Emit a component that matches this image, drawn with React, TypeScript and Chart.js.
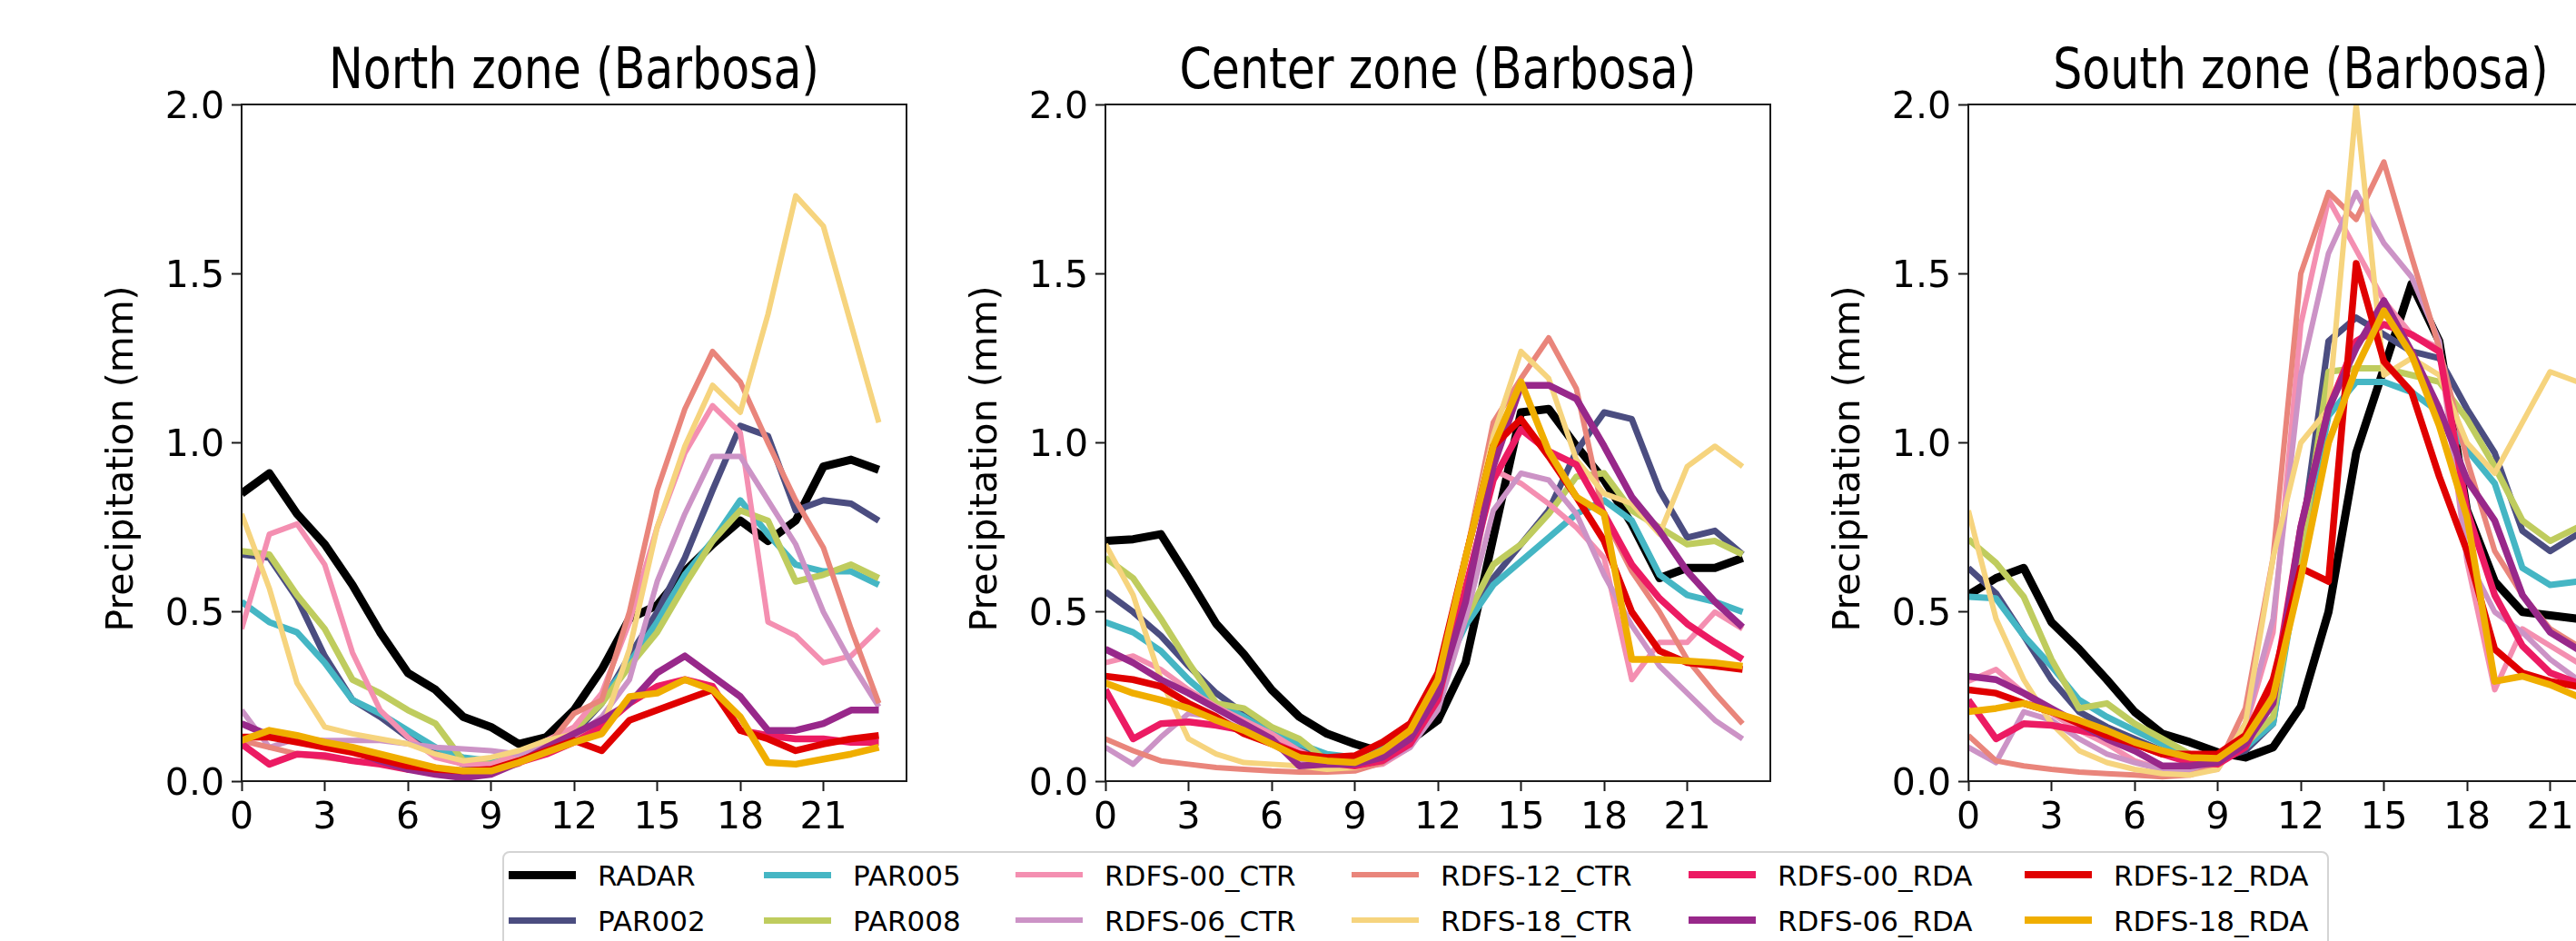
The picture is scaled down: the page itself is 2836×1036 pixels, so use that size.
import React, { useEffect, useRef } from "react";
import { Chart, registerables } from "chart.js";

Chart.register(...registerables);

// ---------- categories & labels ----------
const hours = [0, 1, 2, 3, 4, 5, 6, 7, 8, 9, 10, 11, 12, 13, 14, 15, 16, 17, 18, 19, 20, 21, 22, 23];
const xTickValues = [0, 3, 6, 9, 12, 15, 18, 21];
const yTickValues = [0, 0.5, 1.0, 1.5, 2.0];
const zoneTitles = ["North zone (Barbosa)", "Center zone (Barbosa)", "South zone (Barbosa)"];
const yAxisLabel = "Precipitation (mm)";

const seriesNames = [
  "RADAR", "PAR002", "PAR005", "PAR008",
  "RDFS-00_CTR", "RDFS-06_CTR", "RDFS-12_CTR", "RDFS-18_CTR",
  "RDFS-00_RDA", "RDFS-06_RDA", "RDFS-12_RDA", "RDFS-18_RDA",
];
const seriesColors = [
  "#000000", "#4b4d80", "#45b6c4", "#bfcc5e",
  "#f48fb1", "#cc93c6", "#e9857b", "#f6d47e",
  "#ec1b63", "#98288a", "#e00000", "#f0ae00",
];
const seriesWidths = [9, 7, 7, 7, 6, 6, 6, 6, 7.5, 7.5, 7.5, 7.5];

// ---------- North zone ----------
const nRadar = [0.85, 0.91, 0.79, 0.70, 0.58, 0.44, 0.32, 0.27, 0.19, 0.16, 0.11, 0.13, 0.21, 0.33, 0.48, 0.52, 0.62, 0.70, 0.77, 0.71, 0.77, 0.93, 0.95, 0.92];
const nPar002 = [0.67, 0.66, 0.54, 0.37, 0.24, 0.19, 0.13, 0.085, 0.05, 0.045, 0.06, 0.10, 0.14, 0.23, 0.37, 0.50, 0.66, 0.86, 1.05, 1.02, 0.80, 0.83, 0.82, 0.77];
const nPar005 = [0.53, 0.47, 0.44, 0.35, 0.24, 0.20, 0.15, 0.10, 0.07, 0.06, 0.08, 0.11, 0.15, 0.24, 0.35, 0.47, 0.61, 0.71, 0.83, 0.73, 0.64, 0.62, 0.62, 0.58];
const nPar008 = [0.68, 0.67, 0.55, 0.45, 0.30, 0.26, 0.21, 0.17, 0.06, 0.05, 0.07, 0.11, 0.15, 0.23, 0.34, 0.44, 0.58, 0.71, 0.80, 0.77, 0.59, 0.61, 0.64, 0.60];
const nCtr00 = [0.45, 0.73, 0.76, 0.64, 0.38, 0.21, 0.13, 0.07, 0.05, 0.05, 0.08, 0.12, 0.16, 0.26, 0.47, 0.75, 0.97, 1.11, 1.03, 0.47, 0.43, 0.35, 0.37, 0.45];
const nCtr06 = [0.21, 0.10, 0.125, 0.12, 0.12, 0.12, 0.11, 0.10, 0.095, 0.09, 0.08, 0.10, 0.13, 0.19, 0.30, 0.59, 0.79, 0.96, 0.96, 0.83, 0.70, 0.50, 0.35, 0.22];
const nCtr12 = [0.12, 0.10, 0.08, 0.07, 0.06, 0.05, 0.04, 0.03, 0.03, 0.03, 0.05, 0.10, 0.20, 0.24, 0.50, 0.86, 1.10, 1.27, 1.18, 1.00, 0.83, 0.69, 0.45, 0.23];
const nCtr18 = [0.79, 0.57, 0.29, 0.16, 0.14, 0.125, 0.11, 0.08, 0.06, 0.07, 0.09, 0.12, 0.14, 0.15, 0.39, 0.75, 0.99, 1.17, 1.09, 1.38, 1.73, 1.64, 1.35, 1.06];
const nRda00 = [0.11, 0.05, 0.08, 0.075, 0.06, 0.05, 0.035, 0.03, 0.03, 0.03, 0.055, 0.08, 0.115, 0.16, 0.23, 0.28, 0.30, 0.28, 0.15, 0.135, 0.125, 0.125, 0.115, 0.115];
const nRda06 = [0.17, 0.135, 0.125, 0.11, 0.09, 0.06, 0.035, 0.02, 0.01, 0.02, 0.055, 0.10, 0.14, 0.18, 0.23, 0.32, 0.37, 0.31, 0.25, 0.15, 0.15, 0.17, 0.21, 0.21];
const nRda12 = [0.13, 0.13, 0.115, 0.10, 0.085, 0.065, 0.045, 0.035, 0.03, 0.035, 0.06, 0.09, 0.12, 0.09, 0.18, 0.21, 0.24, 0.27, 0.15, 0.125, 0.09, 0.11, 0.125, 0.135];
const nRda18 = [0.12, 0.15, 0.135, 0.115, 0.10, 0.08, 0.06, 0.04, 0.03, 0.03, 0.055, 0.085, 0.115, 0.14, 0.25, 0.26, 0.30, 0.27, 0.19, 0.055, 0.05, 0.065, 0.08, 0.10];

// ---------- Center zone ----------
const cRadar = [0.71, 0.715, 0.73, 0.60, 0.465, 0.375, 0.27, 0.19, 0.14, 0.11, 0.085, 0.12, 0.18, 0.35, 0.72, 1.09, 1.10, 0.99, 0.89, 0.76, 0.60, 0.63, 0.63, 0.66];
const cPar002 = [0.56, 0.50, 0.43, 0.34, 0.26, 0.20, 0.14, 0.10, 0.07, 0.06, 0.09, 0.16, 0.29, 0.48, 0.60, 0.70, 0.80, 0.975, 1.09, 1.07, 0.86, 0.72, 0.74, 0.67];
const cPar005 = [0.47, 0.44, 0.385, 0.30, 0.23, 0.19, 0.14, 0.11, 0.08, 0.07, 0.10, 0.16, 0.29, 0.46, 0.58, 0.65, 0.72, 0.79, 0.83, 0.77, 0.61, 0.55, 0.53, 0.50];
const cPar008 = [0.66, 0.60, 0.48, 0.35, 0.23, 0.215, 0.16, 0.125, 0.06, 0.055, 0.08, 0.15, 0.29, 0.48, 0.64, 0.70, 0.79, 0.90, 0.91, 0.80, 0.75, 0.70, 0.71, 0.67];
const cCtr00 = [0.35, 0.37, 0.33, 0.27, 0.22, 0.18, 0.14, 0.09, 0.05, 0.04, 0.05, 0.10, 0.22, 0.50, 0.92, 0.88, 0.82, 0.75, 0.66, 0.30, 0.41, 0.41, 0.50, 0.45];
const cCtr06 = [0.10, 0.05, 0.13, 0.20, 0.19, 0.15, 0.11, 0.06, 0.04, 0.04, 0.055, 0.10, 0.21, 0.48, 0.80, 0.91, 0.89, 0.79, 0.61, 0.46, 0.34, 0.26, 0.18, 0.125];
const cCtr12 = [0.125, 0.09, 0.06, 0.05, 0.04, 0.035, 0.03, 0.027, 0.027, 0.03, 0.055, 0.125, 0.30, 0.66, 1.06, 1.19, 1.31, 1.16, 0.78, 0.62, 0.50, 0.36, 0.26, 0.17];
const cCtr18 = [0.70, 0.55, 0.30, 0.125, 0.08, 0.055, 0.05, 0.045, 0.035, 0.04, 0.06, 0.125, 0.29, 0.66, 1.02, 1.27, 1.19, 0.95, 0.85, 0.82, 0.73, 0.93, 0.99, 0.93];
const cRda00 = [0.27, 0.125, 0.17, 0.175, 0.165, 0.15, 0.115, 0.08, 0.055, 0.045, 0.06, 0.11, 0.24, 0.57, 0.89, 1.04, 0.975, 0.935, 0.79, 0.64, 0.54, 0.465, 0.41, 0.36];
const cRda06 = [0.39, 0.35, 0.30, 0.26, 0.215, 0.17, 0.125, 0.045, 0.05, 0.05, 0.07, 0.125, 0.26, 0.53, 0.93, 1.17, 1.17, 1.13, 0.99, 0.84, 0.74, 0.62, 0.53, 0.455];
const cRda12 = [0.31, 0.30, 0.28, 0.23, 0.19, 0.14, 0.11, 0.08, 0.07, 0.075, 0.115, 0.17, 0.32, 0.66, 0.99, 1.07, 0.96, 0.84, 0.71, 0.50, 0.385, 0.35, 0.34, 0.33];
const cRda18 = [0.29, 0.26, 0.24, 0.215, 0.18, 0.15, 0.11, 0.07, 0.06, 0.055, 0.09, 0.15, 0.30, 0.66, 0.99, 1.18, 0.975, 0.84, 0.79, 0.36, 0.36, 0.355, 0.35, 0.34];

// ---------- South zone ----------
const sRadar = [0.55, 0.60, 0.63, 0.47, 0.39, 0.30, 0.205, 0.14, 0.115, 0.085, 0.07, 0.10, 0.22, 0.50, 0.97, 1.22, 1.47, 1.30, 0.80, 0.59, 0.50, 0.49, 0.48, 0.47];
const sPar002 = [0.63, 0.555, 0.43, 0.30, 0.205, 0.16, 0.125, 0.09, 0.07, 0.065, 0.09, 0.17, 0.70, 1.30, 1.37, 1.32, 1.27, 1.25, 1.10, 0.97, 0.74, 0.68, 0.73, 0.75];
const sPar005 = [0.545, 0.54, 0.43, 0.34, 0.24, 0.19, 0.15, 0.11, 0.08, 0.07, 0.10, 0.17, 0.66, 1.08, 1.18, 1.18, 1.15, 1.09, 0.98, 0.88, 0.63, 0.58, 0.59, 0.60];
const sPar008 = [0.715, 0.645, 0.545, 0.36, 0.215, 0.23, 0.17, 0.125, 0.08, 0.07, 0.11, 0.19, 0.66, 1.21, 1.22, 1.22, 1.20, 1.18, 1.07, 0.93, 0.77, 0.71, 0.75, 0.78];
const sCtr00 = [0.295, 0.33, 0.26, 0.20, 0.15, 0.11, 0.06, 0.035, 0.027, 0.035, 0.16, 0.44, 1.35, 1.72, 1.57, 1.42, 1.32, 1.28, 0.65, 0.27, 0.45, 0.40, 0.35, 0.33];
const sCtr06 = [0.10, 0.055, 0.205, 0.18, 0.125, 0.08, 0.055, 0.035, 0.027, 0.045, 0.17, 0.48, 1.20, 1.56, 1.74, 1.59, 1.49, 1.30, 0.66, 0.50, 0.44, 0.36, 0.30, 0.28];
const sCtr12 = [0.135, 0.06, 0.045, 0.035, 0.027, 0.022, 0.018, 0.013, 0.018, 0.045, 0.215, 0.66, 1.50, 1.74, 1.66, 1.83, 1.55, 1.28, 0.95, 0.68, 0.55, 0.45, 0.40, 0.38];
const sCtr18 = [0.80, 0.48, 0.30, 0.17, 0.09, 0.055, 0.035, 0.022, 0.018, 0.035, 0.17, 0.66, 1.00, 1.10, 2.00, 1.20, 1.25, 1.20, 1.00, 0.91, 1.06, 1.21, 1.18, 1.15];
const sRda00 = [0.24, 0.125, 0.17, 0.165, 0.15, 0.135, 0.11, 0.08, 0.055, 0.05, 0.10, 0.26, 0.75, 1.10, 1.30, 1.35, 1.32, 1.27, 0.80, 0.55, 0.40, 0.32, 0.29, 0.27];
const sRda06 = [0.31, 0.30, 0.26, 0.215, 0.17, 0.125, 0.09, 0.045, 0.045, 0.055, 0.11, 0.23, 0.75, 1.10, 1.28, 1.42, 1.27, 1.10, 0.89, 0.77, 0.55, 0.44, 0.39, 0.36];
const sRda12 = [0.27, 0.26, 0.23, 0.205, 0.17, 0.135, 0.11, 0.08, 0.08, 0.08, 0.135, 0.30, 0.63, 0.59, 1.53, 1.24, 1.15, 0.90, 0.68, 0.39, 0.32, 0.295, 0.28, 0.27];
const sRda18 = [0.205, 0.215, 0.23, 0.205, 0.18, 0.15, 0.115, 0.09, 0.07, 0.067, 0.125, 0.25, 0.60, 1.00, 1.22, 1.39, 1.26, 1.05, 0.78, 0.295, 0.31, 0.285, 0.25, 0.24];

const zoneSeries = [
  [nRadar, nPar002, nPar005, nPar008, nCtr00, nCtr06, nCtr12, nCtr18, nRda00, nRda06, nRda12, nRda18],
  [cRadar, cPar002, cPar005, cPar008, cCtr00, cCtr06, cCtr12, cCtr18, cRda00, cRda06, cRda12, cRda18],
  [sRadar, sPar002, sPar005, sPar008, sCtr00, sCtr06, sCtr12, sCtr18, sRda00, sRda06, sRda12, sRda18],
];

// ---------- layout ----------
const FONT = '"DejaVu Sans", "Liberation Sans", sans-serif';
const CANVAS_W = 1018;
const CANVAS_H = 935;
const panelLefts = [0, 951, 1901];
const legendCols = [560, 841, 1118, 1488, 1859, 2229];
const legendRows = [963, 1013];

const panelTextPlugin = {
  id: "panelText",
  afterDraw(chart: any, _args: any, opts: any) {
    const { ctx, chartArea } = chart;
    // title (condensed look)
    ctx.save();
    ctx.fillStyle = "#000";
    ctx.font = `62px ${FONT}`;
    ctx.textAlign = "center";
    ctx.textBaseline = "alphabetic";
    ctx.translate((chartArea.left + chartArea.right) / 2, 97);
    ctx.scale(0.815, 1);
    ctx.fillText(opts.title, 0, 0);
    ctx.restore();
    // y label
    ctx.save();
    ctx.fillStyle = "#000";
    ctx.font = `41px ${FONT}`;
    ctx.textAlign = "center";
    ctx.textBaseline = "alphabetic";
    ctx.translate(146, 505);
    ctx.rotate(-Math.PI / 2);
    ctx.fillText(yAxisLabel, 0, 0);
    ctx.restore();
    // frame
    ctx.save();
    ctx.strokeStyle = "#1a1a1a";
    ctx.lineWidth = 2;
    ctx.strokeRect(chartArea.left, chartArea.top, chartArea.right - chartArea.left, chartArea.bottom - chartArea.top);
    ctx.restore();
  },
};

function buildConfig(zoneIdx: number): any {
  const n = seriesNames.length;
  return {
    type: "line",
    data: {
      datasets: seriesNames.map((name, k) => ({
        label: name,
        data: hours.map((h, i) => ({ x: h, y: zoneSeries[zoneIdx][k][i] })),
        borderColor: seriesColors[k],
        backgroundColor: seriesColors[k],
        borderWidth: seriesWidths[k],
        pointRadius: 0,
        pointHoverRadius: 0,
        tension: 0,
        fill: false,
        clip: 0,
        borderJoinStyle: "round",
        borderCapStyle: "butt",
        order: n - k,
      })),
    },
    options: {
      animation: false,
      responsive: false,
      maintainAspectRatio: false,
      devicePixelRatio: 1,
      events: [],
      layout: { padding: { top: 115, right: 20, left: 0, bottom: 0 } },
      plugins: {
        legend: { display: false },
        tooltip: { enabled: false },
        title: { display: false },
        panelText: { title: zoneTitles[zoneIdx] },
      },
      scales: {
        x: {
          type: "linear",
          min: 0,
          max: 24,
          afterBuildTicks: (s: any) => {
            s.ticks = xTickValues.map((v) => ({ value: v }));
          },
          afterFit: (s: any) => {
            s.height = CANVAS_H - 860;
          },
          grid: { display: true, drawOnChartArea: false, drawTicks: true, tickLength: 11, tickWidth: 2, tickColor: "#1a1a1a" },
          border: { display: false },
          ticks: {
            color: "#000",
            font: { family: FONT, size: 41 },
            padding: 6,
            maxRotation: 0,
            autoSkip: false,
            callback: (v: any) => String(v),
          },
        },
        y: {
          type: "linear",
          min: 0,
          max: 2,
          afterBuildTicks: (s: any) => {
            s.ticks = yTickValues.map((v) => ({ value: v }));
          },
          afterFit: (s: any) => {
            s.width = 266;
          },
          grid: { display: true, drawOnChartArea: false, drawTicks: true, tickLength: 11, tickWidth: 2, tickColor: "#1a1a1a" },
          border: { display: false },
          ticks: {
            color: "#000",
            font: { family: FONT, size: 41 },
            padding: 8,
            labelOffset: 4,
            autoSkip: false,
            callback: (v: any) => Number(v).toFixed(1),
          },
        },
      },
    },
    plugins: [panelTextPlugin],
  };
}

function Panel({ zoneIdx, left }: { zoneIdx: number; left: number }) {
  const ref = useRef<HTMLCanvasElement | null>(null);
  useEffect(() => {
    if (!ref.current) return;
    const chart = new Chart(ref.current, buildConfig(zoneIdx));
    return () => chart.destroy();
  }, [zoneIdx]);
  return (
    <canvas
      ref={ref}
      width={CANVAS_W}
      height={CANVAS_H}
      style={{ position: "absolute", left, top: 0, width: CANVAS_W, height: CANVAS_H }}
    />
  );
}

function Legend() {
  const boxLeft = 553;
  const boxTop = 937;
  const border = 2;
  const items = seriesNames.map((name, k) => {
    const col = Math.floor(k / 2);
    const row = k % 2;
    const hx = legendCols[col] - boxLeft - border;
    const cy = legendRows[row] - boxTop - border;
    return (
      <React.Fragment key={name}>
        <div
          style={{
            position: "absolute",
            left: hx,
            top: cy - seriesWidths[k] / 2,
            width: 74,
            height: seriesWidths[k],
            background: seriesColors[k],
          }}
        />
        <div
          style={{
            position: "absolute",
            left: hx + 98,
            top: cy + 12 - 29 - 4,
            fontFamily: FONT,
            fontSize: 31,
            lineHeight: "44px",
            color: "#000",
            whiteSpace: "nowrap",
          }}
        >
          {name}
        </div>
      </React.Fragment>
    );
  });
  return (
    <div
      style={{
        position: "absolute",
        left: boxLeft,
        top: boxTop,
        width: 2564 - boxLeft - 2 * border,
        height: 130,
        border: `${border}px solid #d4d4d4`,
        borderRadius: 8,
        background: "#fff",
      }}
    >
      {items}
    </div>
  );
}

export default function App() {
  return (
    <div
      style={{
        position: "absolute",
        left: 0,
        top: 0,
        width: 2836,
        height: 1036,
        overflow: "hidden",
        background: "#fff",
      }}
    >
      {zoneTitles.map((t, i) => (
        <Panel key={t} zoneIdx={i} left={panelLefts[i]} />
      ))}
      <Legend />
    </div>
  );
}
